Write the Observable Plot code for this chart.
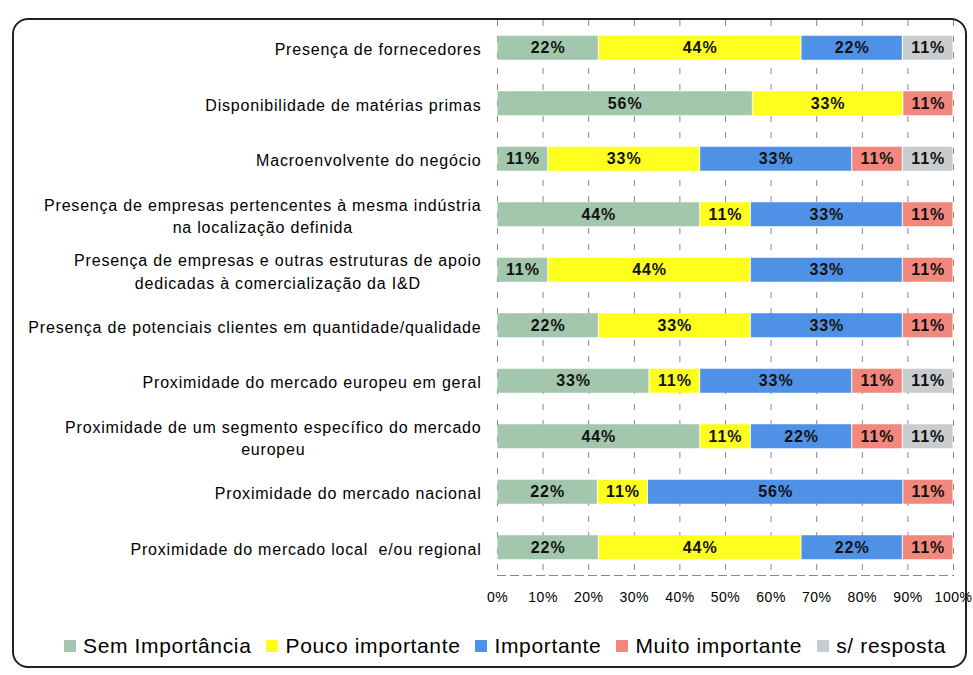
<!DOCTYPE html>
<html><head><meta charset="utf-8">
<script src="https://cdn.jsdelivr.net/npm/d3@7"></script>
<script src="https://cdn.jsdelivr.net/npm/@observablehq/plot@0.6"></script>
<style>
body{margin:0;background:#fff;font-family:"Liberation Sans",Arial,sans-serif;}
#wrap{position:relative;width:973px;height:675px;overflow:hidden;background:#fff}
#box{position:absolute;left:12px;top:18px;width:955px;height:650px;border:2px solid #222;border-radius:16px;box-sizing:border-box}
#chart{position:absolute;left:0;top:0}
#legend{position:absolute;left:64px;top:629px}
#chart g[aria-label="y-axis tick label"]{letter-spacing:0.8px}
#chart g[aria-label="text"]{letter-spacing:0.9px}
#chart g[aria-label="x-axis tick label"]{letter-spacing:0.5px}
.lg-swatch{margin-right:15px !important;font-size:21px;letter-spacing:0.65px;color:#000}
.lg-swatch svg{margin-right:7px !important}
</style></head><body>
<div id="wrap"><div id="box"></div><div id="chart"></div><div id="legend"></div></div>
<script>
const categories = [
  "Presença de fornecedores",
  "Disponibilidade de matérias primas",
  "Macroenvolvente do negócio",
  "Presença de empresas pertencentes à mesma indústria\nna localização definida",
  "Presença de empresas e outras estruturas de apoio\ndedicadas à comercialização da I&D",
  "Presença de potenciais clientes em quantidade/qualidade",
  "Proximidade do mercado europeu em geral",
  "Proximidade de um segmento específico do mercado\neuropeu",
  "Proximidade do mercado nacional",
  "Proximidade do mercado local  e/ou regional"
];
const series = ["Sem Importância", "Pouco importante", "Importante", "Muito importante", "s/ resposta"];
const semImportancia  = [22, 56, 11, 44, 11, 22, 33, 44, 22, 22];
const poucoImportante = [44, 33, 33, 11, 44, 33, 11, 11, 11, 44];
const importante      = [22,  0, 33, 33, 33, 33, 33, 22, 56, 22];
const muitoImportante = [ 0, 11, 11, 11, 11, 11, 11, 11, 11, 11];
const semResposta     = [11,  0, 11,  0,  0,  0, 11, 11,  0,  0];
const xTicks = [0, 0.1, 0.2, 0.3, 0.4, 0.5, 0.6, 0.7, 0.8, 0.9, 1];
const colors = ["#a2c7ad", "#ffff1e", "#4f91e6", "#f2887d", "#c9cccf"];

const seriesValues = [semImportancia, poucoImportante, importante, muitoImportante, semResposta];
const table = [];
categories.forEach((c, i) => {
  series.forEach((s, j) => {
    const v = seriesValues[j][i];
    if (v > 0) table.push({label: c, series: s, value: v});
  });
});

const plot = Plot.plot({
  width: 973, height: 612,
  marginLeft: 497, marginRight: 20, marginTop: 20, marginBottom: 37,
  style: {fontFamily: "'Liberation Sans', Arial, sans-serif", color: "#000", background: "transparent"},
  x: {domain: [0, 1]},
  y: {domain: categories, paddingInner: 0.567, paddingOuter: 0.2835, round: false, label: null},
  color: {domain: series, range: colors},
  marks: [
    Plot.gridX(xTicks, {stroke: "#555", strokeOpacity: 0.7, strokeDasharray: "6,10"}),
    Plot.barX(table, Plot.stackX({offset: "normalize", x: "value", y: "label", fill: "series", insetLeft: 0.5, insetRight: 0.5})),
    Plot.text(table, Plot.stackX({offset: "normalize", x: "value", y: "label", z: "series", text: d => d.value + "%", fontWeight: "bold", fontSize: 16, fill: "#111"})),
    Plot.frame({anchor: "bottom", stroke: "#888", strokeDasharray: "8,5"}),
    Plot.axisX(xTicks, {tickSize: 0, tickPadding: 17, tickFormat: d => Math.round(d * 100) + "%", fontSize: 14, label: null}),
    Plot.axisY({tickSize: 0, tickPadding: 16, fontSize: 16, lineHeight: 1.4, label: null})
  ]
});
document.getElementById("chart").appendChild(plot);

// center multi-line category labels as a right-aligned block
plot.querySelectorAll('g[aria-label="y-axis tick label"] text').forEach(t => {
  const spans = t.querySelectorAll("tspan");
  if (spans.length > 1) {
    const w = Math.max(...Array.from(spans, s => s.getComputedTextLength()));
    spans.forEach(s => {
      const x0 = +(s.getAttribute("x") || 0);
      s.setAttribute("x", x0 - w / 2);
      s.setAttribute("text-anchor", "middle");
    });
  }
});

const legend = Plot.legend({
  color: {domain: series, range: colors},
  legend: "swatches",
  swatchSize: 12,
  className: "lg",
  style: {fontFamily: "'Liberation Sans', Arial, sans-serif", fontSize: "21px"}
});
document.getElementById("legend").appendChild(legend);
</script>
</body></html>
